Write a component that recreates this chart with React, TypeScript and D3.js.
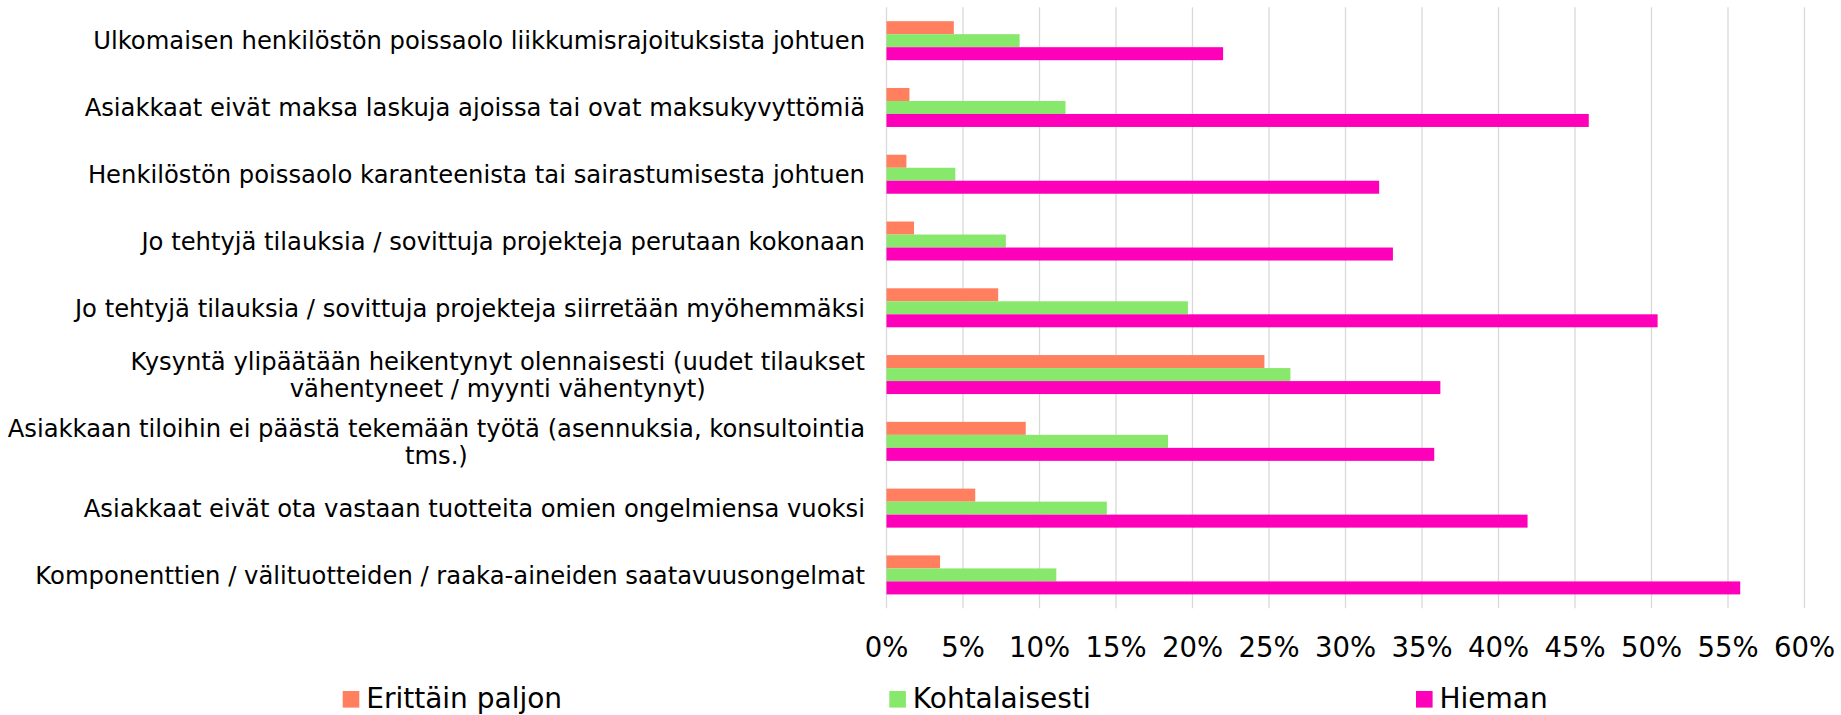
import React, { useEffect, useRef } from "react";
import * as d3 from "d3";

const categories: string[] = [
  "Ulkomaisen henkilöstön poissaolo liikkumisrajoituksista johtuen",
  "Asiakkaat eivät maksa laskuja ajoissa tai ovat maksukyvyttömiä",
  "Henkilöstön poissaolo karanteenista tai sairastumisesta johtuen",
  "Jo tehtyjä tilauksia / sovittuja projekteja perutaan kokonaan",
  "Jo tehtyjä tilauksia / sovittuja projekteja siirretään myöhemmäksi",
  "Kysyntä ylipäätään heikentynyt olennaisesti (uudet tilaukset\nvähentyneet / myynti vähentynyt)",
  "Asiakkaan tiloihin ei päästä tekemään työtä (asennuksia, konsultointia\ntms.)",
  "Asiakkaat eivät ota vastaan tuotteita omien ongelmiensa vuoksi",
  "Komponenttien / välituotteiden / raaka-aineiden saatavuusongelmat",
];

const seriesNames: string[] = ["Erittäin paljon", "Kohtalaisesti", "Hieman"];

const erittainPaljon: number[] = [4.4, 1.5, 1.3, 1.8, 7.3, 24.7, 9.1, 5.8, 3.5];
const kohtalaisesti: number[] = [8.7, 11.7, 4.5, 7.8, 19.7, 26.4, 18.4, 14.4, 11.1];
const hieman: number[] = [22.0, 45.9, 32.2, 33.1, 50.4, 36.2, 35.8, 41.9, 55.8];

const tickValues: number[] = [0, 5, 10, 15, 20, 25, 30, 35, 40, 45, 50, 55, 60];

const colors: string[] = ["#FF7F5E", "#87E86B", "#FF00BA"];

const W = 1841;
const H = 715;
const FONT = "'DejaVu Sans', Verdana, sans-serif";
const LABEL_SIZE = 24.25;

export default function App() {
  const ref = useRef<SVGSVGElement | null>(null);

  useEffect(() => {
    document.body.style.margin = "0";
    const svg = d3.select(ref.current);
    svg.selectAll("*").remove();

    const series = [erittainPaljon, kohtalaisesti, hieman];

    const x = d3.scaleLinear().domain([0, 60]).range([886.5, 1804.5]);
    const y = d3
      .scaleBand<number>()
      .domain(d3.range(categories.length))
      .range([7.3, 608.3])
      .paddingInner(0.416)
      .paddingOuter(0.208);
    const y1 = d3
      .scaleBand<number>()
      .domain(d3.range(series.length))
      .range([0, y.bandwidth()]);

    // gridlines
    svg
      .append("g")
      .selectAll("line")
      .data(tickValues)
      .join("line")
      .attr("x1", (d) => x(d))
      .attr("x2", (d) => x(d))
      .attr("y1", 7.3)
      .attr("y2", 608.3)
      .attr("stroke", "#D9D9D9")
      .attr("stroke-width", 1.3);

    // bars
    const groups = svg
      .append("g")
      .selectAll("g")
      .data(categories.map((_, i) => i))
      .join("g")
      .attr("transform", (i) => `translate(0,${y(i)})`);

    groups
      .selectAll("rect")
      .data((i) => series.map((s, k) => ({ k, v: s[i] })))
      .join("rect")
      .attr("x", x(0))
      .attr("y", (d) => y1(d.k)!)
      .attr("width", (d) => x(d.v) - x(0))
      .attr("height", y1.bandwidth())
      .attr("fill", (d) => colors[d.k]);

    // category labels
    const labelRight = 865;
    const lineH = 27;
    categories.forEach((cat, i) => {
      const lines = cat.split("\n");
      const cy = y(i)! + y.bandwidth() / 2;
      const t = svg
        .append("text")
        .attr("font-family", FONT)
        .attr("font-size", LABEL_SIZE)
        .attr("fill", "#000");
      if (lines.length === 1) {
        t.attr("x", labelRight)
          .attr("y", cy)
          .attr("dy", "0.36em")
          .attr("text-anchor", "end")
          .text(cat);
      } else {
        const widths = lines.map((ln) => {
          const tmp = svg
            .append("text")
            .attr("font-family", FONT)
            .attr("font-size", LABEL_SIZE)
            .text(ln);
          const w = (tmp.node() as SVGTextElement).getComputedTextLength();
          tmp.remove();
          return w;
        });
        const maxW = Math.max(...widths);
        const cx = labelRight - maxW / 2;
        lines.forEach((ln, j) => {
          t.append("tspan")
            .attr("x", cx)
            .attr("y", cy + (j - (lines.length - 1) / 2) * lineH)
            .attr("dy", "0.36em")
            .attr("text-anchor", "middle")
            .text(ln);
        });
      }
    });

    // x tick labels
    svg
      .append("g")
      .selectAll("text")
      .data(tickValues)
      .join("text")
      .attr("x", (d) => x(d))
      .attr("y", 656.7)
      .attr("text-anchor", "middle")
      .attr("font-family", FONT)
      .attr("font-size", 27.5)
      .attr("fill", "#000")
      .text((d) => `${d}%`);

    // legend
    const legendX = [342.7, 889.3, 1416];
    const lg = svg
      .append("g")
      .selectAll("g")
      .data(seriesNames.map((n, k) => ({ n, k })))
      .join("g")
      .attr("transform", (d) => `translate(${legendX[d.k]},0)`);
    lg.append("rect")
      .attr("x", 0)
      .attr("y", 691)
      .attr("width", 16.6)
      .attr("height", 16.6)
      .attr("fill", (d) => colors[d.k]);
    lg.append("text")
      .attr("x", 23.5)
      .attr("y", 708.3)
      .attr("font-family", FONT)
      .attr("font-size", 28)
      .attr("fill", "#000")
      .text((d) => d.n);
  }, []);

  return (
    <svg
      ref={ref}
      width={W}
      height={H}
      style={{ display: "block", background: "#fff" }}
    />
  );
}
